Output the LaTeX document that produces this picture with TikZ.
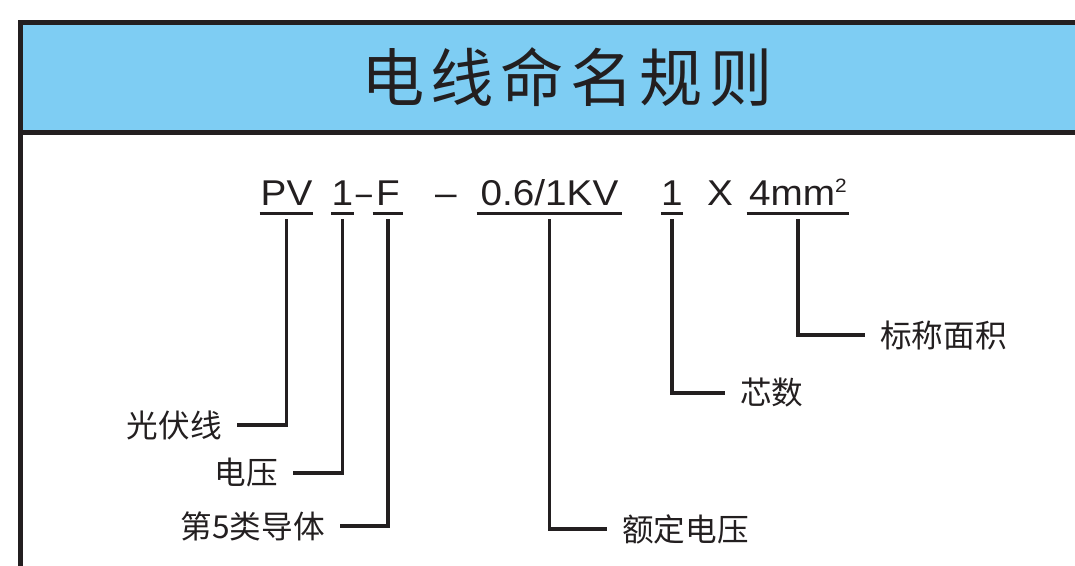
\documentclass[tikz,border=0pt]{standalone}
\usepackage{fontspec}
\usepackage{graphicx}
\newfontfamily\cjk{Noto Sans CJK SC}
\newfontfamily\titlecjk[LetterSpace=10]{Noto Sans CJK SC}
\newfontfamily\codefont[FakeStretch=1.08]{Liberation Sans}
\usetikzlibrary{positioning}
\definecolor{headblue}{RGB}{126,205,243}
\definecolor{ink}{RGB}{35,31,32}

\begin{document}
\begin{tikzpicture}[x=0.02cm, y=-0.02cm,
    frame/.style={draw=ink, line width=2.8pt},
    part/.style={font=\codefont\fontsize{20.4}{24}\selectfont, text=ink, anchor=base,
        inner xsep=0pt, inner ysep=0.16cm, text depth=0pt},
    uline/.style={draw=ink, line width=2pt},
    leader/.style={draw=ink, line width=1.8pt},
    lbl/.style={font=\cjk\fontsize{18}{22}\selectfont, text=ink, inner xsep=0.3cm, inner ysep=0pt}
]
\clip (0,0) rectangle (1075,565);
\fill[white] (0,0) rectangle (1075,565);

% Header band
\fill[headblue] (20.5,22.5) rectangle (1100,132.5);
\draw[frame] (20.5,600) -- (20.5,22.5) -- (1100,22.5);
\draw[frame] (20.5,132.5) -- (1100,132.5);
\node[font=\titlecjk\fontsize{36}{40}\selectfont, text=ink] (title) at (567,77) {电线命名规则};

% Cable code
\node[part, minimum width=1.06cm] (pv) at (286.5,205) {PV};
\node[part, minimum width=0.42cm] (one) at (342.5,205) {1};
\node[part, inner ysep=0pt] (dash1) at (364,205) {\scalebox{0.75}[1]{–}};
\node[part, minimum width=0.6cm] (f) at (388,205) {F};
\node[part, inner ysep=0pt] (dash2) at (446,205) {–};
\node[part, minimum width=2.9cm] (volt) at (549.5,205) {0.6/1KV};
\node[part, minimum width=0.4cm] (core) at (672,205) {1};
\node[part, inner ysep=0pt] (times) at (720,205) {X};
\node[part, minimum width=2.04cm] (area) at (798,205) {4mm\raisebox{0.34em}{\fontsize{11}{12}\selectfont 2}};
\foreach \n in {pv,one,f,volt,core,area}
    \draw[uline] (\n.south west) -- (\n.south east);

% Labels (left)
\node[lbl, anchor=east] (lpv) at (237,425) {光伏线};
\node[lbl, anchor=east] (lone) at (293,473) {电压};
\node[lbl, anchor=east] (lf) at (340,526) {第5类导体};
\draw[leader] ([yshift=-0.12cm]pv.south) |- (lpv.east);
\draw[leader] ([yshift=-0.12cm]one.south) |- (lone.east);
\draw[leader] ([yshift=-0.12cm]f.south) |- (lf.east);

% Labels (right)
\node[lbl, anchor=west] (lvolt) at (607,529) {额定电压};
\node[lbl, anchor=west] (lcore) at (725,393) {芯数};
\node[lbl, anchor=west] (larea) at (865,335) {标称面积};
\draw[leader] ([yshift=-0.12cm]volt.south) |- (lvolt.west);
\draw[leader] ([yshift=-0.12cm]core.south) |- (lcore.west);
\draw[leader] ([yshift=-0.12cm]area.south) |- (larea.west);

\end{tikzpicture}
\end{document}
